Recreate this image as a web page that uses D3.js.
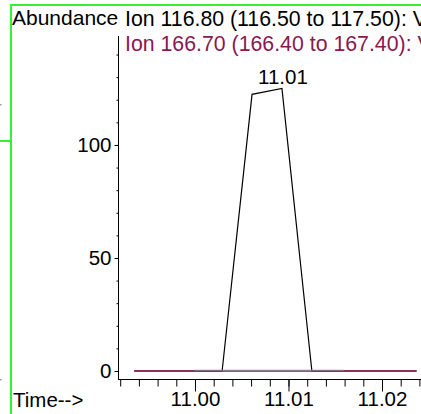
<!DOCTYPE html>
<html><head><meta charset="utf-8">
<script src="https://cdn.jsdelivr.net/npm/d3@7"></script>
<style>body{margin:0;background:#fff}svg{display:block}text{font-family:"Liberation Sans",Arial,sans-serif}</style>
</head><body>
<script>
// ---- data ----
const ionLabels = ["Ion 116.80 (116.50 to 117.50): V", "Ion 166.70 (166.40 to 167.40): V"];
const ionColors = ["#000000", "#8a1850"];
const times116 = [10.9935, 10.9966, 10.9997, 11.0029, 11.0061, 11.0093, 11.0125, 11.0157, 11.0189, 11.0221, 11.0237];
const abund116 = [0, 0, 0, 0, 122.4, 125.0, 0, 0, 0, 0, 0];
const times166 = [10.9935, 10.9966, 10.9997, 11.0029, 11.0061, 11.0093, 11.0125, 11.0157, 11.0189, 11.0221, 11.0237];
const abund166 = [0, 0, 0, 0, 0, 0, 0, 0, 0, 0, 0];
const timesBase = [10.9999, 11.0029, 11.0061, 11.0093, 11.0125, 11.0159];
const abundBase = [0, 0, 0, 0, 0, 0];
const peakLabel = "11.01";
const peakTime = 11.0093, peakValue = 125.0;
const yTicksMajor = [0, 50, 100];
const xTicksMajor = [11.00, 11.01, 11.02];

const W = 421, H = 414;
const svg = d3.select("body").append("svg").attr("width", W).attr("height", H);

// green frame pieces
const green = "#33f233";
svg.append("rect").attr("x", 12).attr("y", 4).attr("width", W - 12).attr("height", 2).attr("fill", green);
svg.append("rect").attr("x", 10).attr("y", 4).attr("width", 2).attr("height", H - 4).attr("fill", green);
svg.append("rect").attr("x", 0).attr("y", 140).attr("width", 10).attr("height", 2).attr("fill", green);
svg.append("rect").attr("x", 0).attr("y", 104).attr("width", 1.5).attr("height", 1.5).attr("fill", "#999");
svg.append("rect").attr("x", 0).attr("y", 379).attr("width", 1.5).attr("height", 1.5).attr("fill", "#999");

const x = d3.scaleLinear().domain([10.991765, 11.024171]).range([118, 421]);
const y = d3.scaleLinear().domain([0, 148.2]).range([371, 36]);
const axisY = 379;

// axis lines
svg.append("line").attr("x1", 118.5).attr("x2", 118.5).attr("y1", y.range()[1]).attr("y2", axisY)
  .attr("stroke", "#000").attr("stroke-width", 1);
svg.append("line").attr("x1", 118).attr("x2", W).attr("y1", axisY + 0.5).attr("y2", axisY + 0.5)
  .attr("stroke", "#000").attr("stroke-width", 1);

// y axis
const yMinor = d3.range(0, 150, 10);
const gy = svg.append("g").attr("transform", "translate(118.5,0)");
gy.call(d3.axisLeft(y).tickValues(yMinor).tickSize(2).tickFormat(""));
gy.select(".domain").remove();
const gyM = svg.append("g").attr("transform", "translate(118.5,0)");
gyM.call(d3.axisLeft(y).tickValues(yTicksMajor).tickSize(4).tickPadding(3).tickFormat(d3.format("d")));
gyM.select(".domain").remove();
gyM.selectAll("text").attr("font-size", 20.5).attr("font-family", "Liberation Sans, Arial, sans-serif").attr("fill", "#000");

// x axis
const xMinor = d3.range(0, 17).map(i => +(10.992 + i * 0.002).toFixed(3));
const gx = svg.append("g").attr("transform", `translate(0,${axisY + 0.5})`);
gx.call(d3.axisBottom(x).tickValues(xMinor).tickSize(7).tickFormat(""));
gx.select(".domain").remove();
const gxM = svg.append("g").attr("transform", `translate(0,${axisY + 0.5})`);
gxM.call(d3.axisBottom(x).tickValues(xTicksMajor).tickSize(12).tickPadding(0).tickFormat(d3.format(".2f")));
gxM.select(".domain").remove();
gxM.selectAll("text").attr("font-size", 20.5).attr("font-family", "Liberation Sans, Arial, sans-serif").attr("fill", "#000");

// traces
const line = d3.line().x(d => x(d[0])).y(d => y(d[1]));
svg.append("path").datum(d3.zip(times116, abund116)).attr("d", line)
  .attr("fill", "none").attr("stroke", ionColors[0]).attr("stroke-width", 1.2);
svg.append("path").datum(d3.zip(times166, abund166)).attr("d", line)
  .attr("fill", "none").attr("stroke", ionColors[1]).attr("stroke-width", 1.5);
svg.append("path").datum(d3.zip(timesBase, abundBase)).attr("d", line)
  .attr("transform", "translate(0,-0.8)")
  .attr("fill", "none").attr("stroke", "#7f9bb8").attr("stroke-width", 0.8);

// peak label
svg.append("text").attr("x", x(peakTime) + 1).attr("y", y(peakValue) - 4)
  .attr("text-anchor", "middle").attr("font-size", 20.5).text(peakLabel);

// headers
svg.append("text").attr("x", 12).attr("y", 25).attr("font-size", 21).text("Abundance");
svg.append("text").attr("x", 125).attr("y", 26).attr("font-size", 21.3).attr("fill", ionColors[0]).text(ionLabels[0]);
svg.append("text").attr("x", 125).attr("y", 51).attr("font-size", 21.3).attr("fill", ionColors[1]).text(ionLabels[1]);

// Time label
svg.append("text").attr("x", 13).attr("y", 407).attr("font-size", 20.5).text("Time-->");
</script>
</body></html>
